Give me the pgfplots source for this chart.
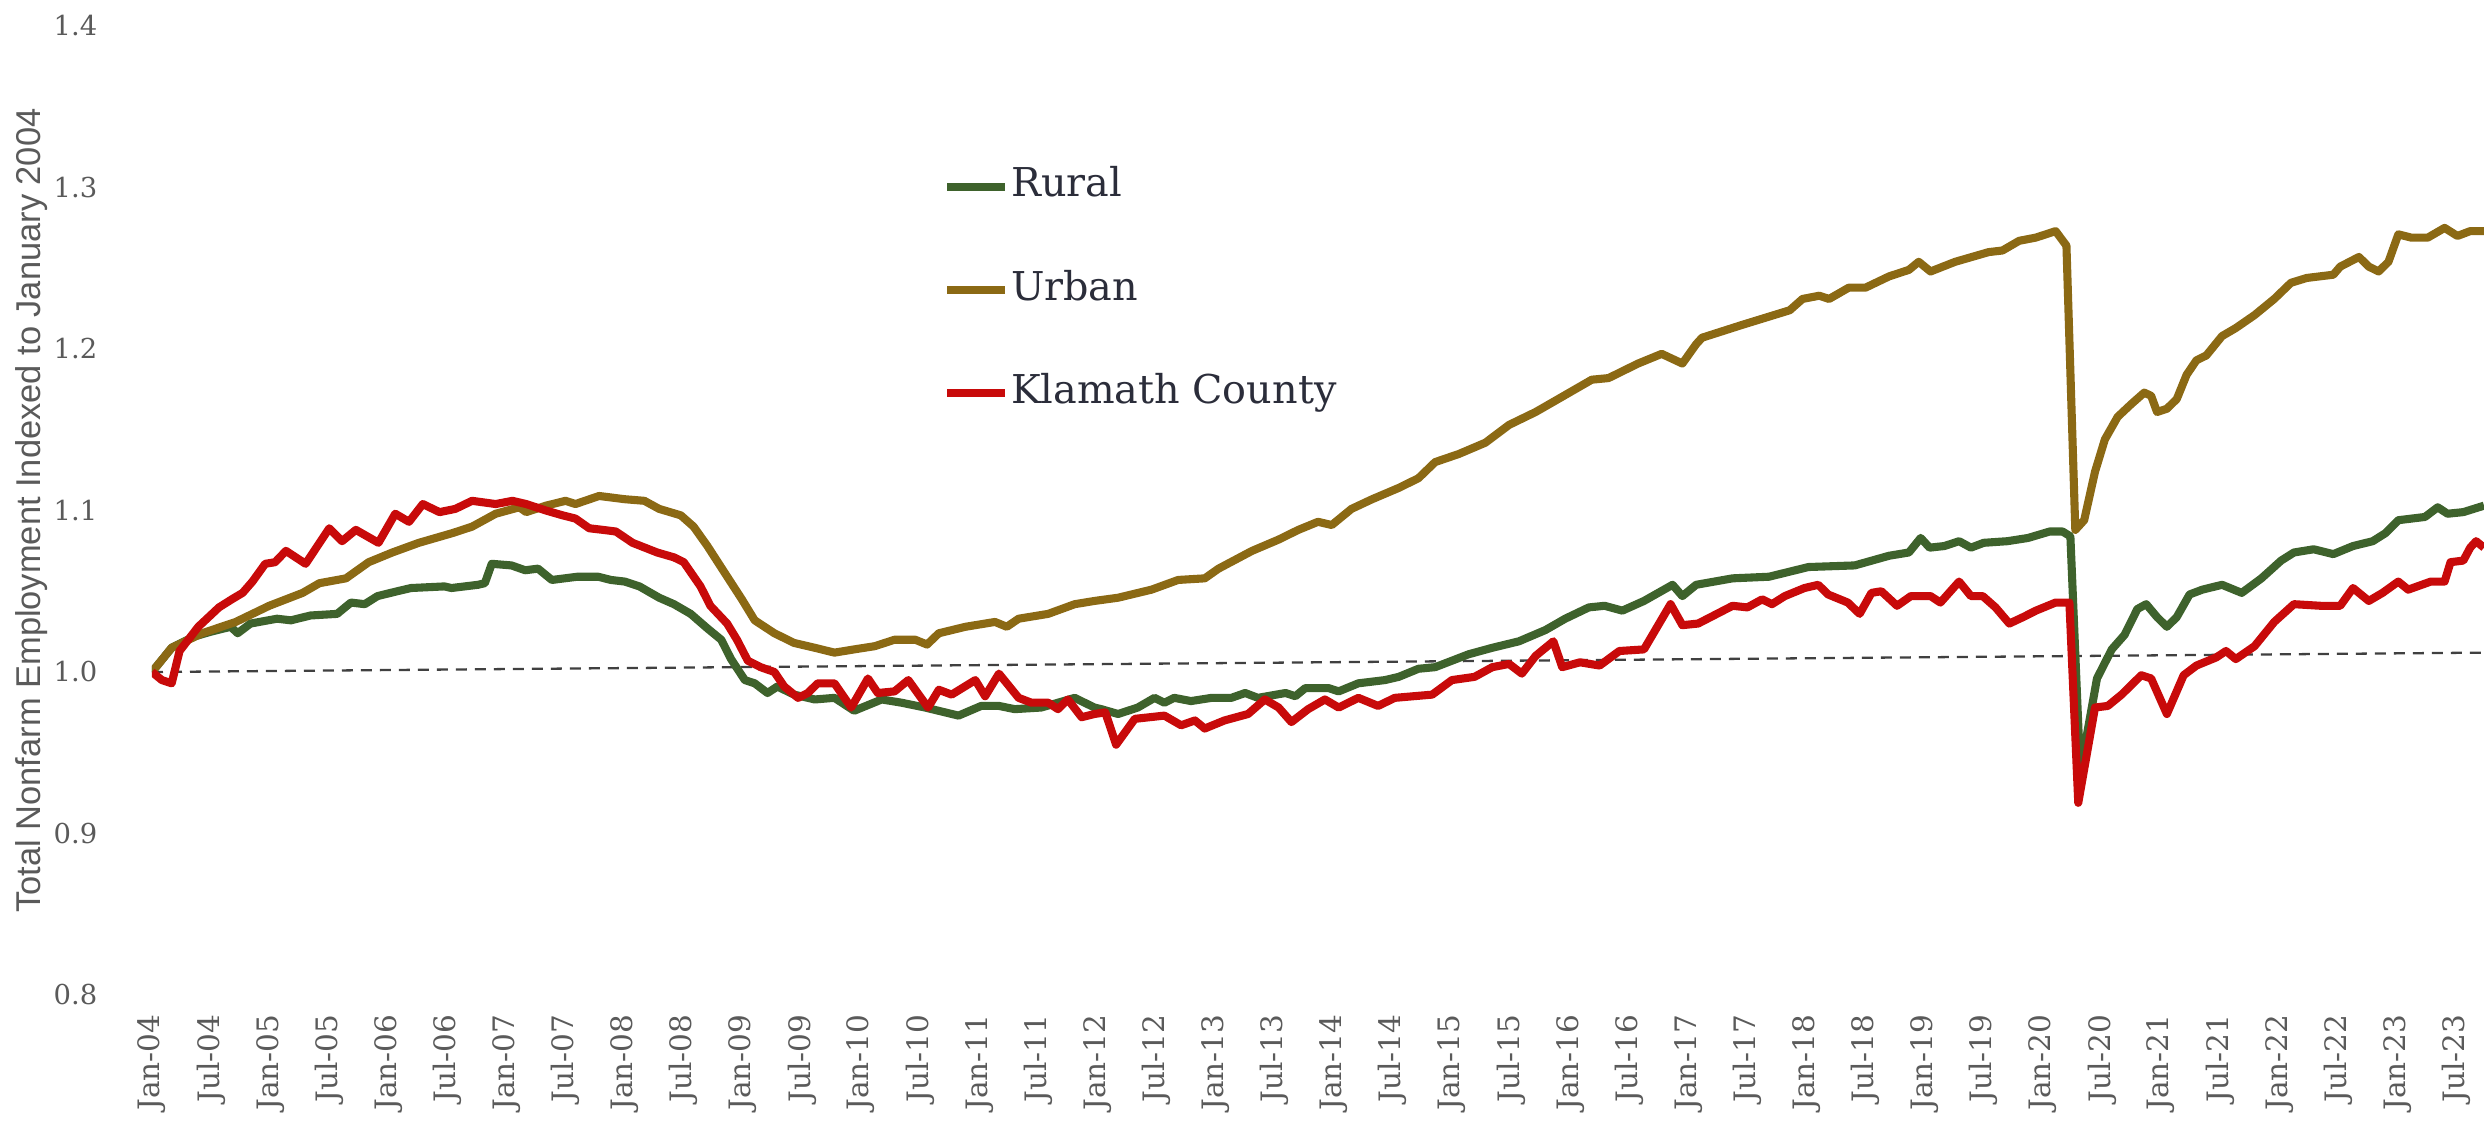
\documentclass[border=0pt]{standalone}
\usepackage{fontspec}
\setmainfont{DejaVu Serif}
\newfontfamily\labelfont{Liberation Sans}
\usepackage{pgfplots}
\pgfplotsset{compat=1.18}
\definecolor{rural}{HTML}{3E622C}
\definecolor{urban}{HTML}{8B6914}
\definecolor{klamath}{HTML}{C80A0A}
\definecolor{ticktext}{HTML}{5A5A5A}
\definecolor{legtext}{HTML}{2B2D3A}
\definecolor{refline}{HTML}{404040}

\begin{document}
\begin{tikzpicture}
\begin{axis}[
  at={(1.52cm,1.27cm)}, anchor=south west,
  scale only axis, width=23.32cm, height=9.69cm,
  xmin=0, xmax=236.8, ymin=0.8, ymax=1.4,
  axis line style={draw=none}, tick style={draw=none},
  xtick={0,6,...,234},
  xticklabels={Jan-04,Jul-04,Jan-05,Jul-05,Jan-06,Jul-06,Jan-07,Jul-07,Jan-08,Jul-08,
               Jan-09,Jul-09,Jan-10,Jul-10,Jan-11,Jul-11,Jan-12,Jul-12,Jan-13,Jul-13,
               Jan-14,Jul-14,Jan-15,Jul-15,Jan-16,Jul-16,Jan-17,Jul-17,Jan-18,Jul-18,
               Jan-19,Jul-19,Jan-20,Jul-20,Jan-21,Jul-21,Jan-22,Jul-22,Jan-23,Jul-23},
  xticklabel style={rotate=90, anchor=east, inner sep=0pt,
                    font=\fontsize{8.4}{10}\selectfont, text=ticktext},
  xticklabel shift=1.9mm,
  ytick={0.8,0.9,1.0,1.1,1.2,1.3,1.4},
  yticklabel style={anchor=east, inner sep=0pt,
                    font=\fontsize{7.8}{9}\selectfont, text=ticktext,
                    /pgf/number format/.cd, fixed, fixed zerofill, precision=1,
                    assume math mode=true},
  yticklabel shift=5.4mm,
  ylabel={Total Nonfarm Employment Indexed to January 2004},
  ylabel style={at={(axis description cs:-0.0515,0.5)}, anchor=center,
                font=\labelfont\fontsize{9.8}{11}\selectfont, text=ticktext},
  legend style={at={(axis description cs:0.339,0.855)}, anchor=north west,
                draw=none, fill=none, inner sep=0pt, row sep=6.35mm,
                column sep=0pt,
                nodes={inner sep=0.5pt, text height=2.8mm, text depth=0.8mm},
                font=\fontsize{11.3}{13}\selectfont, text=legtext},
  legend cell align=left,
  legend image code/.code={\draw[#1] (0cm,0cm) -- (0.58cm,0cm);},
  every axis plot/.append style={line width=2.3pt, line join=round},
]
% flat reference at the January 2004 level
\addplot[refline, line width=0.65pt, dash pattern=on 1.1mm off 0.8mm, forget plot]
  coordinates {(0,1.000) (236.8,1.012)};

\addplot[rural] coordinates {
(0,1.000) (2,1.015) (4.3,1.022) (6,1.025) (8,1.028) (8.7,1.024) (10,1.030)
(12.7,1.033) (14.1,1.032) (16.1,1.035) (18.8,1.036) (20.2,1.043) (21.6,1.042)
(22.9,1.047) (24.9,1.050) (26.3,1.052) (29.7,1.053) (30.4,1.052) (33.1,1.054)
(33.8,1.055) (34.5,1.067) (36.5,1.066) (37.9,1.063) (39.2,1.064) (40.6,1.057)
(43.2,1.059) (45.3,1.059) (46.6,1.057) (48,1.056) (49.5,1.053) (51.5,1.046)
(53,1.042) (54.7,1.036) (56.4,1.027) (57.8,1.020) (58.8,1.008) (60.2,0.995)
(61.2,0.993) (62.5,0.987) (63.5,0.991) (65.2,0.986) (67.3,0.983) (69.3,0.984)
(71.3,0.976) (74.1,0.983) (76.1,0.981) (78.5,0.978) (81.9,0.973) (84.2,0.979)
(86,0.979) (87.6,0.977) (90.3,0.978) (93.7,0.984) (95.7,0.978) (96.4,0.977)
(98.1,0.974) (100.1,0.978) (101.8,0.984) (102.8,0.981) (103.8,0.984) (105.5,0.982)
(107.6,0.984) (109.6,0.984) (111,0.987) (112.3,0.984) (115.1,0.987) (116.1,0.985)
(117.1,0.990) (119.5,0.990) (120.5,0.988) (122.5,0.993) (125.2,0.995) (126.6,0.997)
(128.6,1.002) (130.3,1.003) (133.7,1.011) (136.1,1.015) (138.8,1.019) (141.5,1.026)
(143.5,1.033) (145.9,1.040) (147.5,1.041) (149.3,1.038) (151.5,1.044) (154.4,1.054)
(155.4,1.047) (156.8,1.054) (160.5,1.058) (164.2,1.059) (168.2,1.065) (172.9,1.066)
(176.4,1.072) (178.4,1.074) (179.6,1.083) (180.5,1.077) (182,1.078) (183.5,1.081)
(184.7,1.077) (186,1.080) (188.4,1.081) (190.5,1.083) (192.7,1.087) (194,1.087)
(194.8,1.084) (195.8,0.938) (197.5,0.996) (199,1.014) (200.3,1.023) (201.6,1.039)
(202.5,1.042) (203.6,1.034) (204.6,1.028) (205.6,1.034) (206.9,1.048) (208.2,1.051)
(210.2,1.054) (212.2,1.049) (214.2,1.058) (216.2,1.069) (217.5,1.074) (219.5,1.076)
(221.5,1.073) (223.5,1.078) (225.5,1.081) (226.8,1.086) (228.1,1.094) (230.8,1.096)
(232.1,1.102) (233.1,1.098) (234.7,1.099) (236.8,1.103)
};
\addlegendentry{Rural}

\addplot[urban] coordinates {
(0,1.000) (2,1.015) (5.1,1.024) (8.5,1.031) (11.9,1.041) (15.3,1.049) (17,1.055)
(19.7,1.058) (22,1.068) (24.4,1.074) (27.1,1.080) (30.5,1.086) (32.5,1.090)
(34.9,1.098) (37.3,1.102) (38,1.099) (40,1.103) (42,1.106) (43,1.104) (45.4,1.109)
(48,1.107) (50,1.106) (51.5,1.101) (53.7,1.097) (55,1.090) (56.4,1.078) (58.2,1.061)
(59.9,1.045) (61.2,1.032) (63.2,1.024) (65.2,1.018) (67.3,1.015) (69.3,1.012)
(71.3,1.014) (73.4,1.016) (75.4,1.020) (77.5,1.020) (78.7,1.017) (79.9,1.024)
(82.6,1.028) (85.6,1.031) (86.8,1.028) (88,1.033) (91,1.036) (93.7,1.042) (95.7,1.044)
(98.1,1.046) (101.5,1.051) (104.2,1.057) (106.9,1.058) (108.3,1.064) (111.7,1.075)
(114.4,1.082) (116.4,1.088) (118.4,1.093) (119.8,1.091) (121.8,1.101) (123.9,1.107)
(126.6,1.114) (128.6,1.120) (130.3,1.130) (132.7,1.135) (135.4,1.142) (137.8,1.153)
(140.5,1.161) (142.5,1.168) (146.2,1.181) (147.9,1.182) (150.9,1.191) (153.3,1.197)
(155.4,1.191) (156.8,1.203) (157.4,1.207) (161.5,1.215) (166.3,1.224) (167.6,1.231)
(169.3,1.233) (170.3,1.231) (172.3,1.238) (174,1.238) (176.4,1.245) (178.4,1.249)
(179.4,1.254) (180.6,1.248) (183.1,1.254) (186.5,1.260) (187.9,1.261) (189.6,1.267)
(191.3,1.269) (193.3,1.273) (194.4,1.264) (195.3,1.088) (196.2,1.094) (197.3,1.124)
(198.3,1.144) (199.6,1.158) (201,1.166) (202.3,1.173) (203,1.171) (203.6,1.161)
(204.6,1.163) (205.6,1.169) (206.6,1.184) (207.6,1.193) (208.6,1.196) (210.2,1.208)
(211.6,1.213) (213.5,1.221) (215.5,1.231) (217.2,1.241) (218.8,1.244) (221.5,1.246)
(222.2,1.251) (224.1,1.257) (225.1,1.251) (226.1,1.248) (227.1,1.254) (228.1,1.271)
(229.4,1.269) (231.1,1.269) (232.8,1.275) (234.1,1.270) (235.4,1.273) (236.8,1.273)
};
\addlegendentry{Urban}

\addplot[klamath] coordinates {
(0,1.000) (1,0.995) (2,0.993) (2.8,1.013) (4.7,1.028) (6.8,1.040) (8.1,1.045)
(9.2,1.049) (10.2,1.056) (11.5,1.067) (12.5,1.068) (13.6,1.075) (15.6,1.067)
(18,1.089) (19.3,1.081) (20.7,1.088) (23,1.080) (24.7,1.098) (26.1,1.093)
(27.5,1.104) (29.2,1.099) (30.8,1.101) (32.5,1.106) (34.9,1.104) (36.6,1.106)
(38,1.104) (40,1.100) (41.7,1.097) (43,1.095) (44.4,1.089) (45.8,1.088) (47.1,1.087)
(48.8,1.080) (51.3,1.074) (53,1.071) (54,1.068) (55.7,1.053) (56.7,1.041) (58.4,1.030)
(59.4,1.020) (60.5,1.007) (61.8,1.003) (63.2,1.000) (64.2,0.991) (65.6,0.984)
(66.6,0.987) (67.6,0.993) (69.3,0.993) (71,0.978) (72.7,0.996) (73.7,0.987)
(75.4,0.988) (76.8,0.995) (78.8,0.978) (79.9,0.989) (81.2,0.986) (83.6,0.995)
(84.6,0.985) (86,0.999) (88,0.984) (89.3,0.981) (91,0.981) (92,0.977) (93,0.983)
(94.4,0.972) (95.7,0.974) (96.8,0.975) (97.9,0.955) (99.8,0.971) (102.8,0.973)
(104.5,0.967) (105.9,0.970) (106.9,0.965) (108.9,0.970) (111.3,0.974) (113,0.983)
(114.4,0.978) (115.7,0.969) (117.4,0.977) (119.1,0.983) (120.5,0.978) (122.5,0.984)
(124.5,0.979) (126.2,0.984) (130,0.986) (132,0.995) (134.3,0.997) (136.1,1.003)
(137.8,1.005) (139.1,0.999) (140.5,1.010) (142.3,1.019) (143.2,1.003) (145,1.006)
(147,1.004) (149,1.013) (151.5,1.014) (154.2,1.042) (155.4,1.029) (157,1.030)
(160.5,1.041) (162,1.040) (163.5,1.045) (164.5,1.042) (165.8,1.047) (167.8,1.052)
(169.2,1.054) (170.2,1.048) (172.2,1.043) (173.4,1.036) (174.6,1.049) (175.6,1.050)
(177.2,1.041) (178.6,1.047) (180.6,1.047) (181.6,1.043) (183.5,1.056) (184.7,1.047)
(185.9,1.047) (187.2,1.040) (188.6,1.030) (190,1.034) (191.3,1.038) (193.3,1.043)
(194.7,1.043) (195.6,0.919) (197.3,0.978) (198.6,0.979) (200,0.986) (202,0.998)
(203,0.996) (204.6,0.974) (206.3,0.998) (207.6,1.004) (209.6,1.009) (210.6,1.013)
(211.6,1.008) (213.5,1.016) (215.5,1.031) (217.5,1.042) (220.2,1.041) (222.2,1.041)
(223.5,1.052) (225.1,1.044) (226.5,1.049) (228.1,1.056) (229.1,1.051) (231.4,1.056)
(232.8,1.056) (233.4,1.068) (234.7,1.069) (235.4,1.077) (236,1.081) (236.8,1.077)
};
\addlegendentry{Klamath County}
\end{axis}
\pgfresetboundingbox
\path (0,0) rectangle (24.84cm,11.22cm);
\end{tikzpicture}
\end{document}
